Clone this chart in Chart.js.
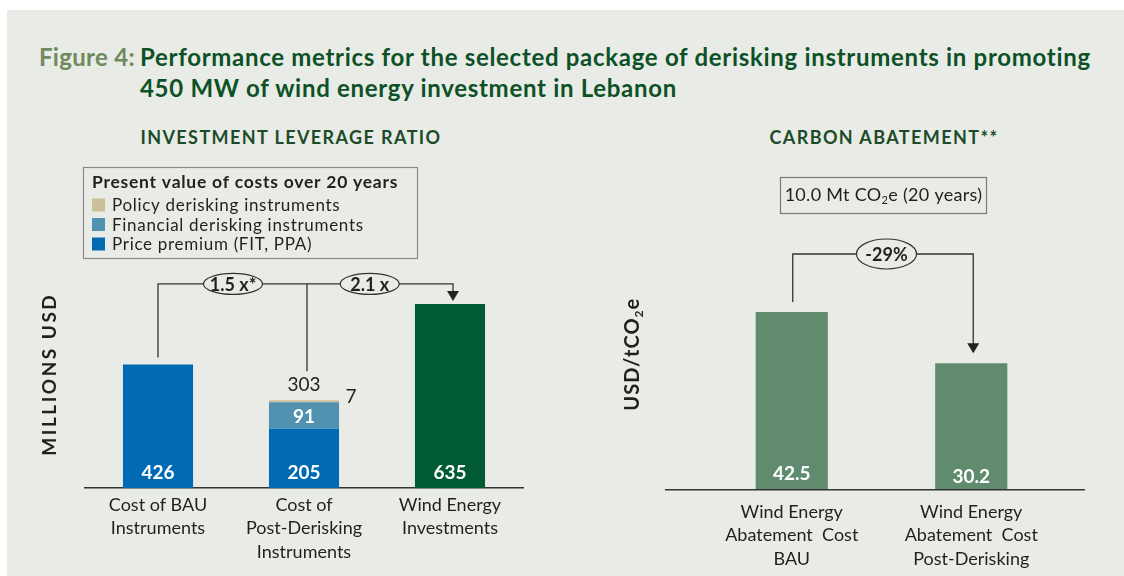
<!DOCTYPE html>
<html><head><meta charset="utf-8">
<script src="https://cdn.jsdelivr.net/npm/chart.js@4.4.1/dist/chart.umd.min.js"></script>
<style>
html,body{margin:0;padding:0;background:#fff;}
body{width:1124px;height:576px;position:relative;overflow:hidden;font-family:Lato,"Open Sans",sans-serif;}
#panel{position:absolute;left:7px;top:10px;right:0;bottom:0;background:#e9ece6;}
canvas{position:absolute;left:0;top:0;}
.ttl{position:absolute;top:41px;font-weight:700;font-size:24px;line-height:31px;white-space:nowrap;}
#fig{left:39px;color:#6f8a5c;letter-spacing:0.3px;}
#txt{left:140px;color:#0d5126;letter-spacing:0.7px;}
.sub{position:absolute;top:126px;font-weight:700;font-size:18px;letter-spacing:1.4px;color:#1d4b2a;white-space:nowrap;transform:translateX(-50%);line-height:22px;}
</style></head>
<body>
<div id="panel"></div>
<div class="ttl" id="fig">Figure 4:</div>
<div class="ttl" id="txt">Performance metrics for the selected package of derisking instruments in promoting<br>450 MW of wind energy investment in Lebanon</div>
<div class="sub" style="left:291px">INVESTMENT LEVERAGE RATIO</div>
<div class="sub" style="left:884px">CARBON ABATEMENT**</div>
<canvas id="c1" width="1124" height="620"></canvas>
<canvas id="c2" width="1124" height="620"></canvas>
<script>
// ---- data ----
const leftCategories = [["Cost of BAU","Instruments"],["Cost of","Post-Derisking","Instruments"],["Wind Energy","Investments"]];
const pricePremium = [426, 205, null];
const financialDerisking = [null, 91, null];
const policyDerisking = [null, 7, null];
const windInvestment = [null, null, 635];
const leverageRatios = ["1.5 x*", "2.1 x"];
const legendTitle = "Present value of costs over 20 years";
const leftAxisTitle = "MILLIONS USD";

const rightCategories = [["Wind Energy","Abatement  Cost","BAU"],["Wind Energy","Abatement  Cost","Post-Derisking"]];
const abatementCost = [42.5, 30.2];
const abatementChange = "-29%";
const abatementTotal = ["10.0 Mt CO", "2", "e (20 years)"];
const rightAxisTitle = ["USD/tCO", "2", "e"];

const FONT = "Lato, 'Open Sans', sans-serif";
const INK = "#231f20";
const LINE = "#333333";
const PANEL = "#e9ece6";

function ellipseLabel(ctx, x, y, rx, ry, text){
  ctx.save();
  ctx.beginPath(); ctx.ellipse(x, y, rx, ry, 0, 0, Math.PI*2);
  ctx.fillStyle = PANEL; ctx.fill();
  ctx.lineWidth = 1.2; ctx.strokeStyle = LINE; ctx.stroke();
  ctx.fillStyle = INK; ctx.font = "700 18px " + FONT;
  ctx.textAlign = "center"; ctx.textBaseline = "middle";
  ctx.fillText(text, x, y + 1);
  ctx.restore();
}
function arrowHead(ctx, x, tipY){
  ctx.beginPath(); ctx.moveTo(x - 6, tipY - 10); ctx.lineTo(x + 6, tipY - 10); ctx.lineTo(x, tipY); ctx.closePath();
  ctx.fillStyle = "#222"; ctx.fill();
}
function subText(ctx, parts, cx, cy, size, weight){
  ctx.font = weight + " " + size + "px " + FONT;
  const w0 = ctx.measureText(parts[0]).width, w2 = ctx.measureText(parts[2]).width;
  ctx.font = weight + " " + Math.round(size*0.62) + "px " + FONT;
  const w1 = ctx.measureText(parts[1]).width;
  let x = cx - (w0 + w1 + w2)/2;
  ctx.textAlign = "left"; ctx.textBaseline = "middle";
  ctx.font = weight + " " + size + "px " + FONT; ctx.fillText(parts[0], x, cy); x += w0;
  ctx.font = weight + " " + Math.round(size*0.62) + "px " + FONT; ctx.fillText(parts[1], x, cy + size*0.3); x += w1;
  ctx.font = weight + " " + size + "px " + FONT; ctx.fillText(parts[2], x, cy);
}

const leftPlugin = {
  id: "leftDecor",
  afterDraw(chart){
    const ctx = chart.ctx, xs = chart.scales.x, ys = chart.scales.y;
    const cx = i => xs.getPixelForValue(i);
    ctx.save();
    chart.data.datasets.forEach((ds, di) => {
      const meta = chart.getDatasetMeta(di);
      meta.data.forEach((el, i) => {
        const v = ds.data[i];
        if (v == null) return;
        ctx.textAlign = "center"; ctx.textBaseline = "middle";
        if (di === 0 || di === 3) {
          ctx.fillStyle = "#fff"; ctx.font = "700 19px " + FONT;
          ctx.fillText(String(v), el.x, el.base - 15);
        } else if (di === 1) {
          ctx.fillStyle = "#fff"; ctx.font = "700 19px " + FONT;
          ctx.fillText(String(v), el.x, (el.y + el.base)/2 + 1);
        } else if (di === 2) {
          ctx.fillStyle = INK; ctx.font = "400 19px " + FONT;
          ctx.fillText(String(v), el.x + el.width/2 + 12, el.y - 3);
        }
      });
    });
    const total = pricePremium[1] + financialDerisking[1] + policyDerisking[1];
    const topStack = ys.getPixelForValue(total);
    ctx.fillStyle = INK; ctx.font = "400 19px " + FONT; ctx.textAlign = "center"; ctx.textBaseline = "middle";
    ctx.fillText(String(total), cx(1), topStack - 15);
    // bracket
    const bY = ys.getPixelForValue(windInvestment[2]) - 20;
    ctx.strokeStyle = LINE; ctx.lineWidth = 1.3;
    ctx.beginPath();
    ctx.moveTo(cx(0), ys.getPixelForValue(pricePremium[0]) - 7); ctx.lineTo(cx(0), bY); ctx.lineTo(cx(2) + 3, bY); ctx.lineTo(cx(2) + 3, ys.getPixelForValue(windInvestment[2]) - 12);
    ctx.moveTo(cx(1) + 3, bY); ctx.lineTo(cx(1) + 3, topStack - 29);
    ctx.stroke();
    arrowHead(ctx, cx(2) + 3, ys.getPixelForValue(windInvestment[2]) - 3);
    ellipseLabel(ctx, (cx(0) + cx(1))/2 + 2, bY, 29.5, 10.5, leverageRatios[0]);
    ellipseLabel(ctx, cx(1) + 0.45*(cx(2) - cx(1)), bY, 29.5, 10.5, leverageRatios[1]);
    // legend box
    const lx = 83, ly = 167, lw = 334, lh = 91;
    ctx.strokeStyle = "#8a8a8a"; ctx.lineWidth = 1.2; ctx.strokeRect(lx + 0.5, ly + 0.5, lw, lh);
    ctx.fillStyle = INK; ctx.textAlign = "left"; ctx.textBaseline = "middle";
    ctx.letterSpacing = "0.75px";
    ctx.font = "700 17.5px " + FONT;
    ctx.fillText(legendTitle, lx + 9, ly + 15);
    ctx.letterSpacing = "0.7px";
    [2, 1, 0].forEach((di, k) => {
      const ds = chart.data.datasets[di];
      const yy = ly + 38 + k*19.5;
      ctx.fillStyle = ds.backgroundColor; ctx.fillRect(lx + 9, yy - 6.5, 13, 13);
      ctx.fillStyle = INK; ctx.font = "400 17px " + FONT; ctx.fillText(ds.label, lx + 29, yy + 1);
    });
    ctx.letterSpacing = "0px";
    // y title
    ctx.save();
    ctx.translate(50, ys.getPixelForValue(0) - 114); ctx.rotate(-Math.PI/2);
    ctx.letterSpacing = "2.5px";
    ctx.fillStyle = INK; ctx.font = "700 19px " + FONT; ctx.textAlign = "center"; ctx.textBaseline = "middle";
    ctx.fillText(leftAxisTitle, 0, 0);
    ctx.restore();
    ctx.restore();
  }
};

const rightPlugin = {
  id: "rightDecor",
  afterDraw(chart){
    const ctx = chart.ctx, xs = chart.scales.x, ys = chart.scales.y, a = chart.chartArea;
    const cx = i => xs.getPixelForValue(i);
    ctx.save();
    ctx.strokeStyle = LINE; ctx.lineWidth = 1.5;
    ctx.beginPath(); ctx.moveTo(a.left - 37, a.bottom + 0.5); ctx.lineTo(a.right + 24, a.bottom + 0.5); ctx.stroke();
    const meta = chart.getDatasetMeta(0);
    meta.data.forEach((el, i) => {
      ctx.fillStyle = "#fff"; ctx.font = "700 19px " + FONT; ctx.textAlign = "center"; ctx.textBaseline = "middle";
      ctx.fillText(abatementCost[i].toFixed(1), el.x, el.base - 15 + (i ? 3 : 0));
    });
    const top0 = ys.getPixelForValue(abatementCost[0]);
    const top1 = ys.getPixelForValue(abatementCost[1]);
    const bY = top0 - 58;
    ctx.strokeStyle = LINE; ctx.lineWidth = 1.3;
    ctx.beginPath();
    ctx.moveTo(cx(0) + 1, top0 - 10); ctx.lineTo(cx(0) + 1, bY); ctx.lineTo(cx(1) + 2, bY); ctx.lineTo(cx(1) + 2, top1 - 19);
    ctx.stroke();
    arrowHead(ctx, cx(1) + 2, top1 - 10);
    ellipseLabel(ctx, (cx(0) + cx(1))/2 + 5, bY, 30, 15, abatementChange);
    const bx = (a.left + a.right)/2 + 2;
    ctx.strokeStyle = "#7a7a7a"; ctx.lineWidth = 1.2; ctx.strokeRect(bx - 103, 177.5, 206, 36);
    ctx.fillStyle = INK;
    ctx.letterSpacing = "0.3px";
    subText(ctx, abatementTotal, bx, 195, 18, "400");
    ctx.save();
    ctx.translate(633, a.bottom - 135); ctx.rotate(-Math.PI/2);
    ctx.fillStyle = INK;
    ctx.letterSpacing = "1px";
    subText(ctx, rightAxisTitle, 0, 0, 20, "700");
    ctx.restore();
    ctx.restore();
  }
};

new Chart(document.getElementById("c1"), {
  type: "bar",
  data: { labels: leftCategories, datasets: [
    { label: "Price premium (FIT, PPA)", data: pricePremium, backgroundColor: "#006ab4" },
    { label: "Financial derisking instruments", data: financialDerisking, backgroundColor: "#5092b0" },
    { label: "Policy derisking instruments", data: policyDerisking, backgroundColor: "#c9bf98" },
    { label: "Wind Energy Investments", data: windInvestment, backgroundColor: "#005a32" }
  ]},
  options: {
    responsive: false, animation: false,
    layout: { padding: { left: 85, right: 1124 - 523, top: 256, bottom: 620 - 488 - 80.4 } },
    plugins: { legend: { display: false }, tooltip: { enabled: false } },
    datasets: { bar: { categoryPercentage: 1, barPercentage: 0.48 } },
    scales: {
      x: { stacked: true, grid: { display: false, drawTicks: false }, border: { display: true, color: LINE, width: 1.5 },
           ticks: { color: INK, padding: 5, font: { size: 18, family: FONT, lineHeight: 1.3 } } },
      y: { stacked: true, display: false, min: 0, max: 800 }
    }
  },
  plugins: [leftPlugin]
});

new Chart(document.getElementById("c2"), {
  type: "bar",
  data: { labels: rightCategories, datasets: [
    { label: "Abatement cost", data: abatementCost, backgroundColor: "#618b6e" }
  ]},
  options: {
    responsive: false, animation: false,
    layout: { padding: { left: 702, right: 1124 - 1061, top: 239, bottom: 620 - 489 - 92.4 } },
    plugins: { legend: { display: false }, tooltip: { enabled: false } },
    datasets: { bar: { categoryPercentage: 1, barPercentage: 0.402 } },
    scales: {
      x: { grid: { display: false, drawTicks: false }, border: { display: false },
           ticks: { color: INK, padding: 11, font: { size: 18, family: FONT, lineHeight: 1.3 } } },
      y: { display: false, min: 0, max: 60 }
    }
  },
  plugins: [rightPlugin]
});
</script>
</body></html>
